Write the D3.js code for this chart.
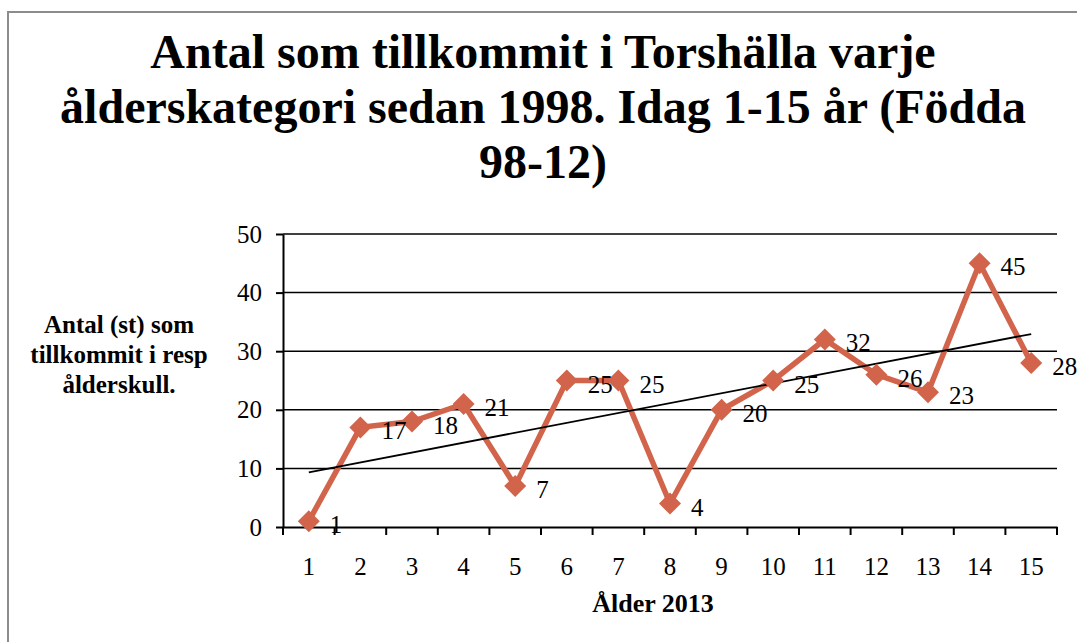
<!DOCTYPE html>
<html>
<head>
<meta charset="utf-8">
<script src="https://cdn.jsdelivr.net/npm/d3@7"></script>
<style>
  html, body { margin: 0; padding: 0; background: #fff; }
  svg { display: block; }
  text { font-family: "Liberation Serif", "Times New Roman", serif; fill: #000; }
</style>
</head>
<body>
<svg id="chart"></svg>
<script>
// data
const ages = ["1","2","3","4","5","6","7","8","9","10","11","12","13","14","15"];
const counts = [1, 17, 18, 21, 7, 25, 25, 4, 20, 25, 32, 26, 23, 45, 28];
const yTicks = [0, 10, 20, 30, 40, 50];
const titleLines = ["Antal som tillkommit i Torshälla varje", "ålderskategori sedan 1998. Idag 1-15 år (Födda", "98-12)"];
const yTitleLines = ["Antal (st) som", "tillkommit i resp", "ålderskull."];
const xTitle = "Ålder 2013";

const width = 1077, height = 642;
const svg = d3.select("#chart").attr("width", width).attr("height", height);

// outer frame (runs off the right and bottom edges)
svg.append("rect")
    .attr("x", 8).attr("y", 12).attr("width", 1100).attr("height", 700)
    .attr("fill", "none").attr("stroke", "#8c8c8c").attr("stroke-width", 2);

// title
svg.append("g").selectAll("text").data(titleLines).join("text")
    .attr("x", 543)
    .attr("y", (d, i) => 68 + i * 55)
    .attr("text-anchor", "middle")
    .attr("font-weight", "bold")
    .attr("font-size", 48)
    .text(d => d);

const plot = { left: 283, right: 1057, top: 234, bottom: 527 };

const x = d3.scaleBand().domain(ages).range([plot.left, plot.right]).padding(0);
const y = d3.scaleLinear().domain([0, 50]).range([plot.bottom, plot.top]);
const cx = d => x(d) + x.bandwidth() / 2;

// gridlines
svg.append("g").selectAll("line").data(yTicks.filter(v => v > 0)).join("line")
    .attr("x1", plot.left).attr("x2", plot.right)
    .attr("y1", d => y(d)).attr("y2", d => y(d))
    .attr("stroke", "#000").attr("stroke-width", 1.5);

// y axis
const yAxis = svg.append("g")
    .attr("transform", `translate(${plot.left},0)`)
    .call(d3.axisLeft(y).tickValues(yTicks).tickSize(7).tickPadding(14).tickSizeOuter(0));
yAxis.select(".domain").attr("stroke", "#000").attr("stroke-width", 2);
yAxis.selectAll(".tick line").attr("stroke", "#000").attr("stroke-width", 2);
yAxis.selectAll(".tick text")
    .attr("font-family", "Liberation Serif, Times New Roman, serif")
    .attr("font-size", 25).attr("fill", "#000");

// x axis: ticks on category boundaries
const xAxis = svg.append("g")
    .attr("transform", `translate(0,${plot.bottom})`)
    .call(d3.axisBottom(x).tickSize(0).tickPadding(30));
xAxis.select(".domain").attr("stroke", "#000").attr("stroke-width", 2);
xAxis.selectAll(".tick text")
    .attr("font-family", "Liberation Serif, Times New Roman, serif")
    .attr("font-size", 25).attr("fill", "#000");
xAxis.append("g").selectAll("line").data(d3.range(ages.length + 1)).join("line")
    .attr("x1", i => plot.left + i * x.bandwidth())
    .attr("x2", i => plot.left + i * x.bandwidth())
    .attr("y1", 0).attr("y2", 8)
    .attr("stroke", "#000").attr("stroke-width", 2);

// axis titles
svg.append("text")
    .attr("x", 653).attr("y", 612)
    .attr("text-anchor", "middle")
    .attr("font-weight", "bold").attr("font-size", 26)
    .text(xTitle);

svg.append("g").selectAll("text").data(yTitleLines).join("text")
    .attr("x", 119)
    .attr("y", (d, i) => 333 + i * 30)
    .attr("text-anchor", "middle")
    .attr("font-weight", "bold").attr("font-size", 25)
    .text(d => d);

// series
const pts = ages.map((a, i) => ({ a, v: counts[i], n: i + 1 }));
const color = "#d1644a";

svg.append("path")
    .datum(pts)
    .attr("fill", "none")
    .attr("stroke", color)
    .attr("stroke-width", 5.5)
    .attr("stroke-linejoin", "miter")
    .attr("d", d3.line().x(d => cx(d.a)).y(d => y(d.v)));

// linear trendline (least squares)
const mx = d3.mean(pts, d => d.n), my = d3.mean(pts, d => d.v);
const slope = d3.sum(pts, d => (d.n - mx) * (d.v - my)) / d3.sum(pts, d => (d.n - mx) ** 2);
const fit = n => my + slope * (n - mx);
const first = pts[0], last = pts[pts.length - 1];
svg.append("line")
    .attr("x1", cx(first.a)).attr("y1", y(fit(first.n)))
    .attr("x2", cx(last.a)).attr("y2", y(fit(last.n)))
    .attr("stroke", "#000").attr("stroke-width", 1.8);

// diamond markers
svg.append("g").selectAll("path").data(pts).join("path")
    .attr("transform", d => `translate(${cx(d.a)},${y(d.v)})`)
    .attr("d", "M0,-11L11,0L0,11L-11,0Z")
    .attr("fill", color);

// data labels
svg.append("g").selectAll("text").data(pts).join("text")
    .attr("x", d => cx(d.a) + 21)
    .attr("y", d => y(d.v) + 12)
    .attr("font-size", 25)
    .text(d => d.v);
</script>
</body>
</html>
